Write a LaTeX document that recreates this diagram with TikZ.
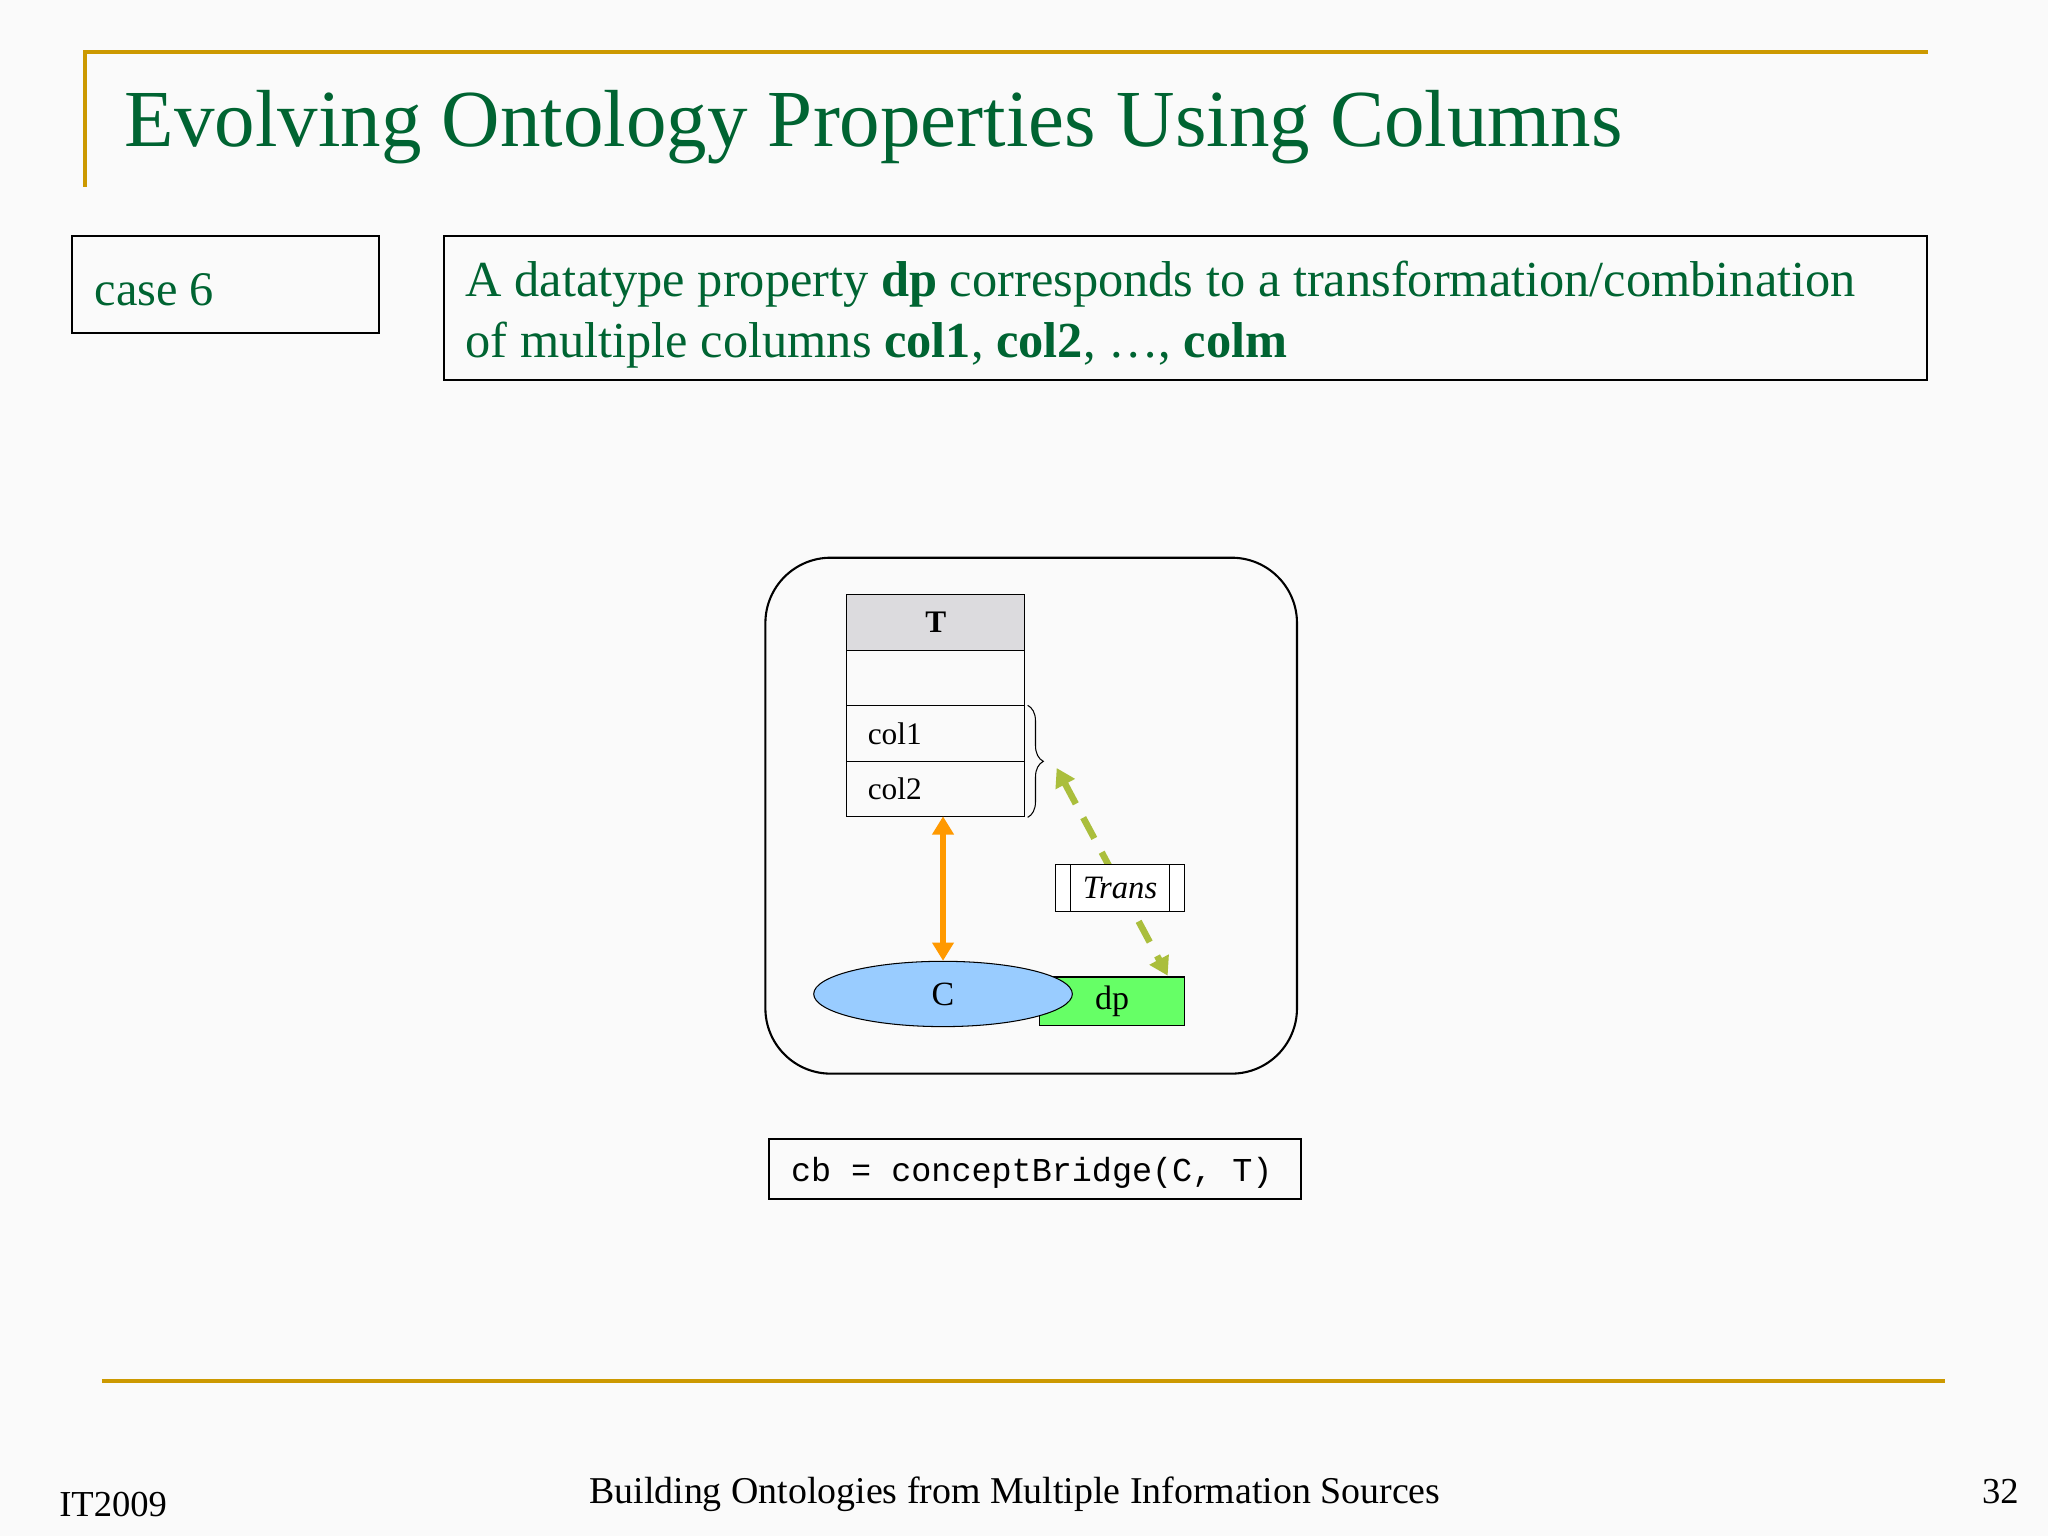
\documentclass[tikz,border=0pt]{standalone}
\usepackage{fontspec}
\setmainfont{Liberation Serif}
\setmonofont{Liberation Mono}
\usetikzlibrary{arrows.meta,decorations.pathreplacing,shapes.geometric}
\definecolor{tgreen}{RGB}{0,100,50}
\definecolor{gold}{RGB}{204,153,0}
\definecolor{cblue}{RGB}{153,204,255}
\definecolor{dpgreen}{RGB}{102,255,102}
\definecolor{olive}{RGB}{170,190,60}
\definecolor{corange}{RGB}{255,153,0}
\definecolor{hgray}{RGB}{220,219,222}
\tikzset{cell/.style={draw,minimum width=68pt,minimum height=21.25pt,inner sep=0pt,anchor=north west,font=\fontsize{12}{14}\selectfont},
 colcell/.style={cell,text width=52pt,align=left,inner xsep=8pt},
 bigtip/.tip={Triangle[length=7pt,width=8pt]}}
\begin{document}
\begin{tikzpicture}[x=0.5pt,y=-0.5pt]
\useasboundingbox (0,0) rectangle (1568,1176);
\fill[white!98!black] (0,0) rectangle (1568,1176);
\draw[gold,line width=1.5pt] (65,143) -- (65,40) -- (1476,40);
\node[anchor=base west,text=tgreen,font=\fontsize{31}{36}\selectfont,inner sep=0] (title) at (95,112) {Evolving Ontology Properties Using Columns};
\draw[thick] (55,181) rectangle (290,255);
\node[anchor=base west,text=tgreen,font=\fontsize{18.5}{20}\selectfont,inner sep=0] (case) at (72,234) {case 6};
\draw[thick] (340,181) rectangle (1475,291);
\node[anchor=base west,text=tgreen,font=\fontsize{19.3}{20}\selectfont,inner sep=0] (d1) at (356,227) {A datatype property \textbf{dp} corresponds to a transformation/combination};
\node[anchor=base west,text=tgreen,font=\fontsize{19.3}{20}\selectfont,inner sep=0] (d2) at (356,274) {of multiple columns \textbf{col1}, \textbf{col2}, …, \textbf{colm}};
\draw[thick,rounded corners=25pt] (586,427) rectangle (993,822);
\node[cell,fill=hgray,font=\fontsize{12}{14}\selectfont\bfseries] (T) at (648,455) {T};
\node[cell] (r0) at (648,497.5) {};
\node[colcell] (c1) at (648,540) {col1};
\node[colcell] (c2) at (648,582.5) {col2};
\draw[decorate,decoration={brace,amplitude=6pt}] ([xshift=1pt]c1.north east) -- ([xshift=1pt]c2.south east);
\node[draw,fill=dpgreen,minimum width=55.5pt,minimum height=18.5pt,inner sep=0,font=\fontsize{13}{15}\selectfont] (dp) at (851.5,766.5) {\hspace*{0pt}dp};
\node[ellipse,draw,fill=cblue,minimum width=99pt,minimum height=25pt,inner sep=0,font=\fontsize{13}{15}\selectfont] (C) at (722,761) {C};
\draw[corange,line width=2.5pt,bigtip-bigtip] (722,625) -- (C.north);
\coordinate (ta) at (809,588);
\coordinate (tb) at (894,747);
\draw[olive,line width=2.5pt,dash pattern=on 9pt off 6pt,bigtip-bigtip] (ta) -- (tb);
\node[draw,fill=white,minimum width=49.5pt,minimum height=18pt,inner sep=0,font=\fontsize{12.5}{14}\selectfont\itshape] (tr) at (857.5,680) {Trans};
\draw ([xshift=6pt]tr.north west) -- ([xshift=6pt]tr.south west);
\draw ([xshift=-6pt]tr.north east) -- ([xshift=-6pt]tr.south east);
\draw[thick] (589,872) rectangle (996,918);
\node[font=\ttfamily\fontsize{12.8}{14}\selectfont] (cb) at (790,898) {cb = conceptBridge(C, T)};
\draw[gold,line width=1.5pt] (78,1057) -- (1489,1057);
\node[anchor=base west,inner sep=0,font=\fontsize{14}{15}\selectfont] (it) at (45,1161) {IT2009};
\node[anchor=base,inner sep=0,font=\fontsize{14.5}{15}\selectfont] (ft) at (777,1151) {Building Ontologies from Multiple Information Sources};
\node[anchor=base east,inner sep=0,font=\fontsize{14}{15}\selectfont] (pg) at (1546,1151) {32};
\end{tikzpicture}
\end{document}
